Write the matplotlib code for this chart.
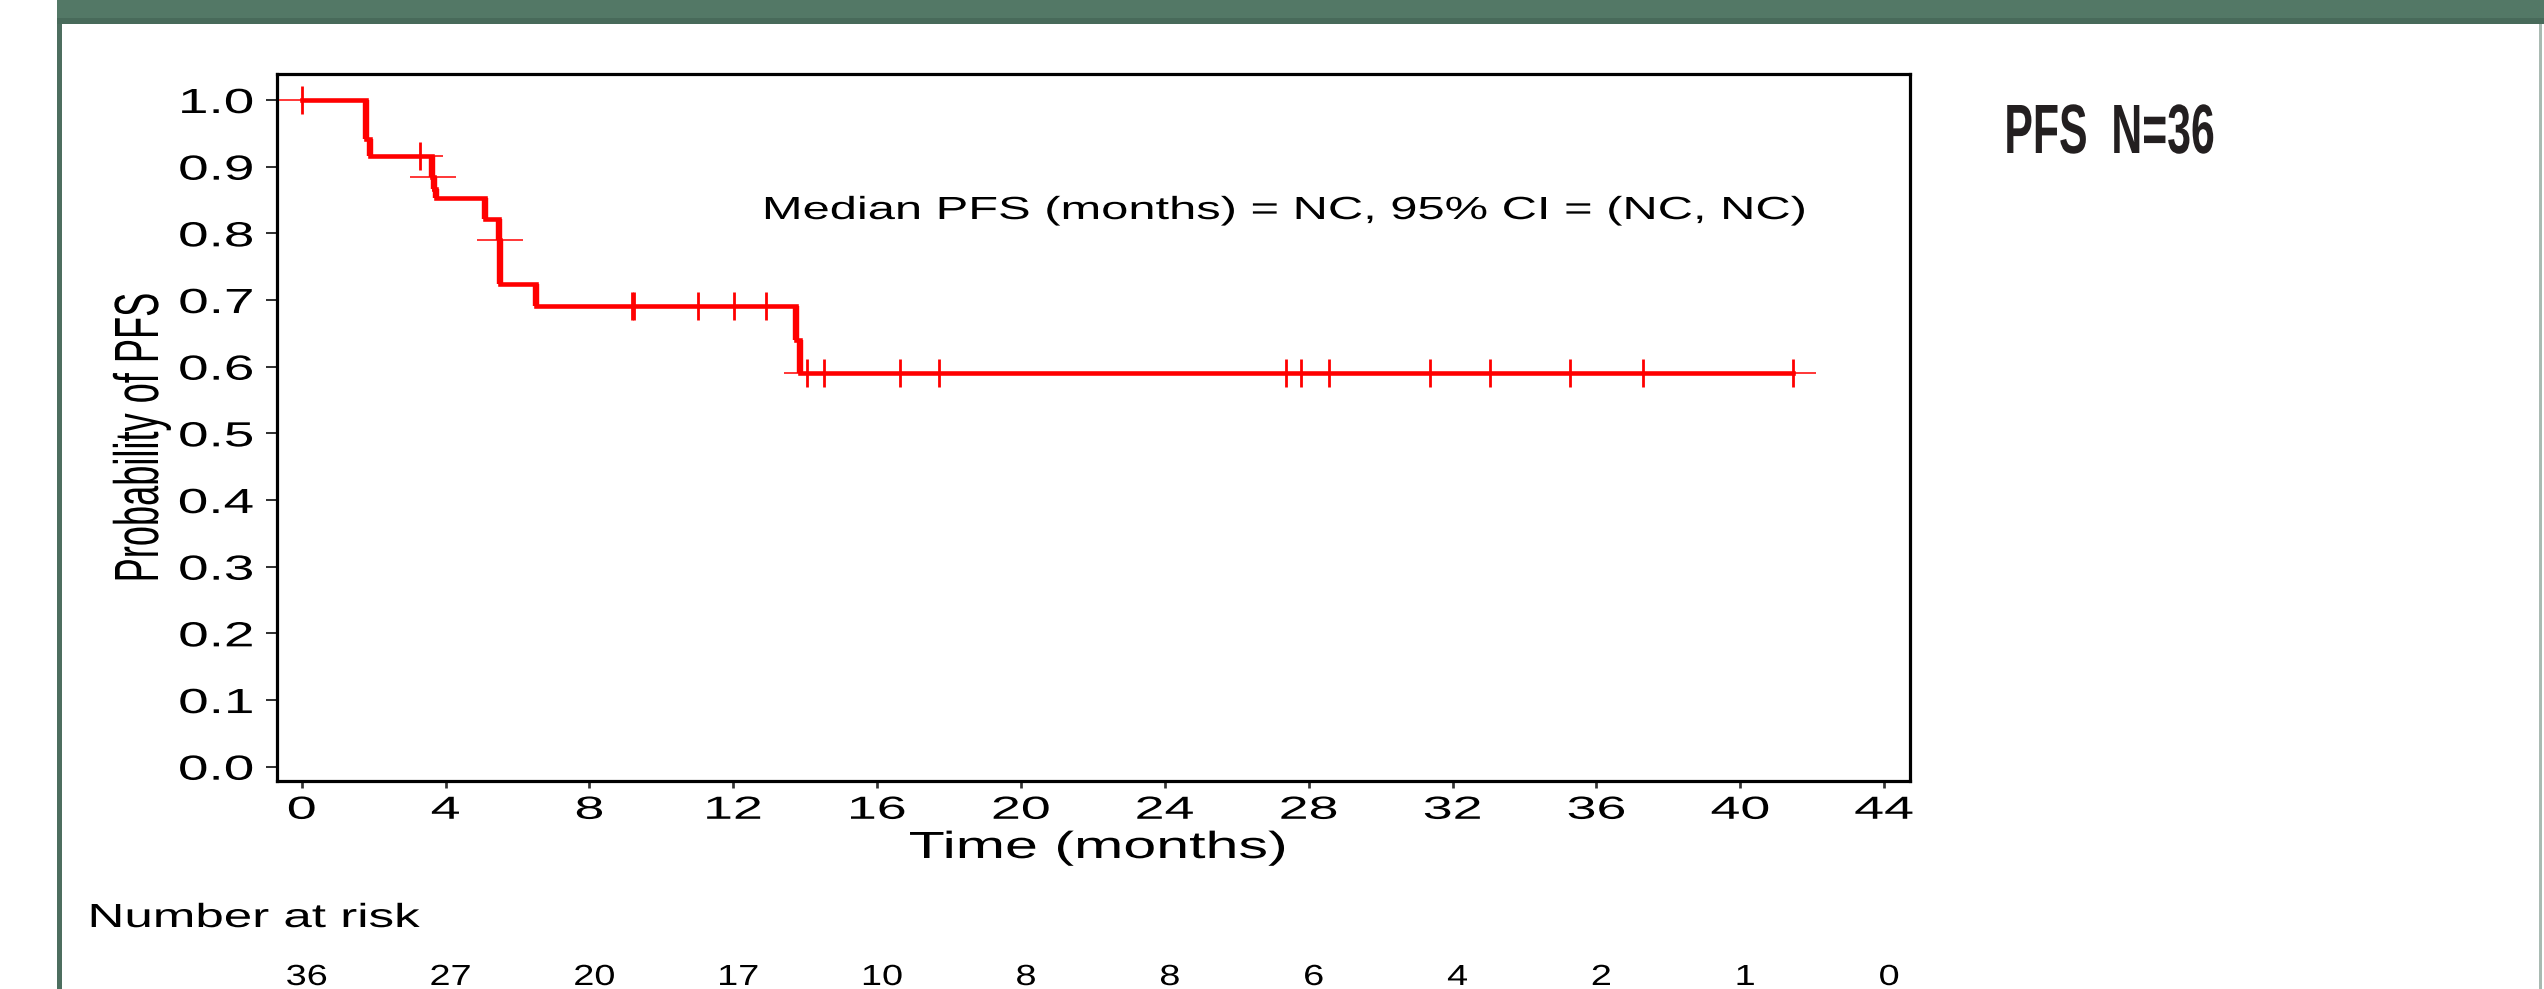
import numpy as np
import matplotlib
matplotlib.use("Agg")
import matplotlib.pyplot as plt
import matplotlib.patheffects as pe
from matplotlib.transforms import Affine2D, blended_transform_factory, ScaledTranslation
from matplotlib.textpath import TextPath
from matplotlib.font_manager import FontProperties
from matplotlib.patches import Rectangle

# ---------------- data ----------------
step_times = [0.0, 1.78, 1.90, 3.61, 3.68, 3.74, 5.10, 5.48, 5.52, 6.52, 13.75, 13.86]
step_surv = [1.0, 0.941, 0.9165, 0.884, 0.866, 0.8535, 0.821, 0.790, 0.724, 0.6905, 0.640, 0.5905]
last_time = 41.47
censor_times = [0.0, 3.29, 3.66, 5.50, 9.19, 9.23, 11.01, 12.03, 12.90, 14.05, 14.52,
                16.64, 17.72, 27.38, 27.78, 28.57, 31.36, 33.05, 35.27, 37.29, 41.47]
risk_times = [0, 4, 8, 12, 16, 20, 24, 28, 32, 36, 40, 44]
risk_counts = [36, 27, 20, 17, 10, 8, 8, 6, 4, 2, 1, 0]
x_ticks = [0, 4, 8, 12, 16, 20, 24, 28, 32, 36, 40, 44]
y_ticks = [0.0, 0.1, 0.2, 0.3, 0.4, 0.5, 0.6, 0.7, 0.8, 0.9, 1.0]
title_text = "PFS  N=36"
median_text = "Median PFS (months) = NC, 95% CI = (NC, NC)"
x_label = "Time (months)"
y_label = "Probability of PFS"
risk_label = "Number at risk"

# ---------------- figure geometry ----------------
W, H, DPI = 2544, 989, 100
RED = "#ff0000"
FAM = "Liberation Sans"
plt.rcParams["font.family"] = [FAM, "DejaVu Sans"]


class Stretch(pe.AbstractPathEffect):
    """Stretch glyph outlines of a text along its own x axis."""
    def __init__(self, sx=1.0, sy=1.0, anchor="center"):
        super().__init__()
        self.sx, self.sy, self.anchor = sx, sy, anchor

    def draw_path(self, renderer, gc, tpath, affine, rgbFace=None):
        ext = tpath.get_extents()
        if self.anchor == "left":
            cx = ext.x0
        elif self.anchor == "right":
            cx = ext.x1
        else:
            cx = 0.5 * (ext.x0 + ext.x1)
        tr = Affine2D().translate(-cx, 0).scale(self.sx, self.sy).translate(cx, 0) + affine
        renderer.draw_path(gc, tpath, tr, rgbFace)


def fit(s, cap_px, width_px, weight="normal"):
    fp = FontProperties(family=FAM, weight=weight)
    capf = TextPath((0, 0), "H", size=100, prop=fp).get_extents().height / 100.0
    em = cap_px / capf
    w = TextPath((0, 0), s, size=em, prop=fp).get_extents().width
    return em * 72.0 / DPI, width_px / w


def fx(px):
    return px / W


def fy(py):
    return 1.0 - py / H


fig = plt.figure(figsize=(W / DPI, H / DPI), dpi=DPI, facecolor="white")

# slide decorations
fig.patches.append(Rectangle((fx(57), fy(17.5)), 1 - fx(57), 17.5 / H, transform=fig.transFigure,
                             facecolor="#537866", edgecolor="none", zorder=0))
fig.patches.append(Rectangle((fx(57), fy(23.5)), 1 - fx(57), 6.0 / H, transform=fig.transFigure,
                             facecolor="#486a5a", edgecolor="none", zorder=0))
fig.patches.append(Rectangle((fx(57), 0), 5.0 / W, fy(23.5), transform=fig.transFigure,
                             facecolor="#4d6e5f", edgecolor="none", zorder=0))
fig.patches.append(Rectangle((fx(2539), 0), 3.0 / W, fy(23.5), transform=fig.transFigure,
                             facecolor="#a9bab2", edgecolor="none", zorder=0))

# axes
L, R, T, B = 277, 1910, 74, 780.5
ax = fig.add_axes([fx(L), fy(B), fx(R) - fx(L), (B - T) / H])
ax.set_xlim(-0.687, 44.72)
ax.set_ylim(-0.0207, 1.039)
for sp in ax.spines.values():
    sp.set_linewidth(2.3)
    sp.set_color("black")

# KM curve
t = np.array(step_times)
s = np.array(step_surv)
t_end = np.append(t[1:], last_time)
ax.hlines(s, t, t_end, colors=RED, lw=3.3, capstyle="projecting", zorder=3)
ax.vlines(t[1:], s[1:], s[:-1], colors=RED, lw=4.6, capstyle="butt", zorder=3)
ct = np.array(censor_times)
cs = s[np.searchsorted(t, ct, side="right") - 1]
ax.plot(ct, cs, ls="none", marker="|", ms=19.7, mew=2.0, color=RED, clip_on=False, zorder=4)
ax.plot(ct, cs, ls="none", marker="_", ms=32.7, mew=1.1, color=RED, clip_on=False, zorder=4)

# ticks
ytick_pt, ytick_sx = fit("1.0", 24, 70)
xtick_pt, xtick_sx = fit("44", 22, 57)
ax.set_yticks(y_ticks)
ax.set_yticklabels([f"{v:.1f}" for v in y_ticks])
ax.set_xticks(x_ticks)
ax.set_xticklabels([str(v) for v in x_ticks])
ax.tick_params(axis="y", direction="out", length=7.9, width=1.45, color="#333333",
               pad=9.1, labelsize=ytick_pt, labelcolor="black")
ax.tick_params(axis="x", direction="out", length=5.0, width=1.95, color="#333333",
               pad=6.0, labelsize=xtick_pt, labelcolor="black")
for lab in ax.get_yticklabels():
    lab.set_path_effects([Stretch(ytick_sx, anchor="right")])
for lab in ax.get_xticklabels():
    lab.set_path_effects([Stretch(xtick_sx)])

# axis labels
yl_pt, yl_sx = fit(y_label, 43, 285)
ax.set_ylabel(y_label, fontsize=yl_pt, va="baseline", ha="center")
ax.yaxis.set_label_coords(fx(158), fy(438), transform=fig.transFigure)
ax.yaxis.label.set_path_effects([Stretch(yl_sx)])

xl_pt, xl_sx = fit(x_label, 26, 374)
ax.set_xlabel(x_label, fontsize=xl_pt, va="baseline", ha="center")
ax.xaxis.set_label_coords(fx(1098), fy(858), transform=fig.transFigure)
ax.xaxis.label.set_path_effects([Stretch(xl_sx)])

# median annotation
md_pt, md_sx = fit(median_text, 22, 1038)
ax.text(fx(1285), fy(219), median_text, transform=fig.transFigure, fontsize=md_pt,
        ha="center", va="baseline", color="black", path_effects=[Stretch(md_sx)])

# number at risk
nr_pt, nr_sx = fit(risk_label, 23, 328)
fig.text(fx(254), fy(927), risk_label, fontsize=nr_pt, ha="center", va="baseline",
         color="black", path_effects=[Stretch(nr_sx)])
rk_pt, rk_sx = fit("36", 20, 39)
rtrans = blended_transform_factory(ax.transData, fig.transFigure) + \
    ScaledTranslation(5.0 / DPI, 0, fig.dpi_scale_trans)
for rt, rc in zip(risk_times, risk_counts):
    ax.text(rt, fy(985), str(rc), transform=rtrans, fontsize=rk_pt, ha="center",
            va="baseline", color="black", clip_on=False, path_effects=[Stretch(rk_sx)])

# side title
tt_pt, tt_sx = fit(title_text, 48, 206, weight="bold")
fig.text(fx(2109), fy(153), title_text, fontsize=tt_pt, fontweight="bold", ha="center",
         va="baseline", color="#231f20", path_effects=[Stretch(tt_sx)])

fig.savefig("out.png", dpi=DPI, facecolor="white")
